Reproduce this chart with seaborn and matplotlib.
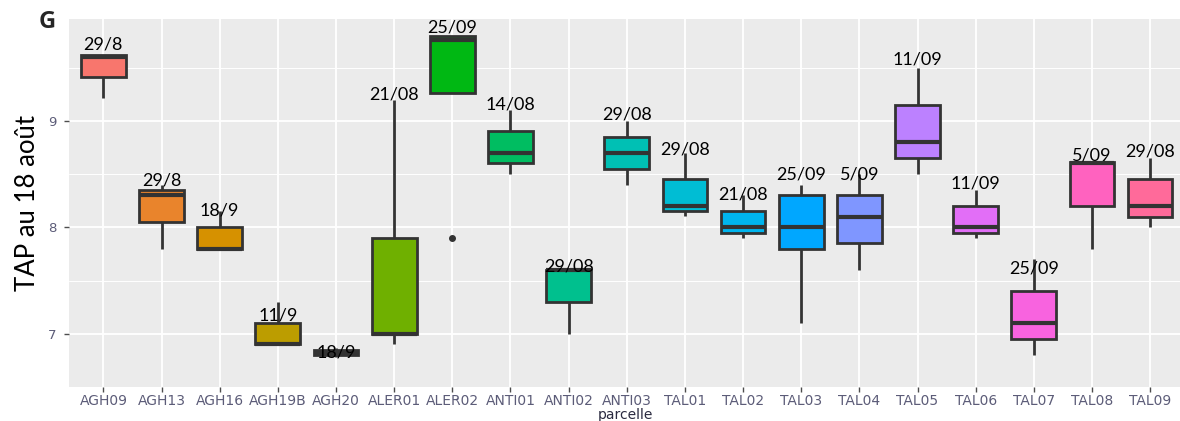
import numpy as np
import pandas as pd
import matplotlib
matplotlib.use("Agg")
import matplotlib.pyplot as plt
import seaborn as sns

parcelles = ["AGH09", "AGH13", "AGH16", "AGH19B", "AGH20", "ALER01", "ALER02",
             "ANTI01", "ANTI02", "ANTI03", "TAL01", "TAL02", "TAL03", "TAL04",
             "TAL05", "TAL06", "TAL07", "TAL08", "TAL09"]
# five values per parcel: lowest, lower hinge, median, upper hinge, highest
v_low  = [9.21, 7.80, 7.80, 6.90, 6.78, 6.90, 7.90, 8.50, 7.00, 8.40, 8.11, 7.90, 7.10, 7.60, 8.50, 7.90, 6.80, 7.80, 8.00]
v_q1   = [9.41, 8.05, 7.80, 6.90, 6.80, 7.00, 9.26, 8.60, 7.30, 8.55, 8.15, 7.95, 7.80, 7.85, 8.65, 7.95, 6.95, 8.20, 8.10]
v_med  = [9.60, 8.30, 7.80, 6.90, 6.82, 7.00, 9.76, 8.70, 7.60, 8.70, 8.20, 8.00, 8.00, 8.10, 8.80, 8.00, 7.10, 8.60, 8.20]
v_q3   = [9.62, 8.35, 8.00, 7.10, 6.85, 7.90, 9.80, 8.90, 7.60, 8.85, 8.45, 8.15, 8.30, 8.30, 9.15, 8.20, 7.40, 8.61, 8.45]
v_high = [9.62, 8.40, 8.15, 7.30, 6.87, 9.20, 9.80, 9.10, 7.60, 9.00, 8.70, 8.30, 8.40, 8.50, 9.50, 8.35, 7.70, 8.61, 8.65]
dates  = ["29/8", "29/8", "18/9", "11/9", "18/9", "21/08", "25/09", "14/08", "29/08", "29/08",
          "29/08", "21/08", "25/09", "5/09", "11/09", "11/09", "25/09", "5/09", "29/08"]
date_y = [9.72, 8.44, 8.16, 7.17, 6.82, 9.25, 9.88, 9.15, 7.63, 9.06,
          8.73, 8.31, 8.50, 8.50, 9.58, 8.41, 7.61, 8.67, 8.71]

rows = []
for i, p in enumerate(parcelles):
    for arr in (v_low, v_q1, v_med, v_q3, v_high):
        rows.append({"parcelle": p, "TAP": arr[i]})
df = pd.DataFrame(rows)

def hcl_to_hex(h, c=100.0, l=65.0):
    Xn, Yn, Zn = 95.047, 100.0, 108.883
    hr = np.deg2rad(h)
    u, v = c * np.cos(hr), c * np.sin(hr)
    Y = Yn * ((l + 16) / 116) ** 3
    den = Xn + 15 * Yn + 3 * Zn
    un, vn = 4 * Xn / den, 9 * Yn / den
    up = u / (13 * l) + un
    vp = v / (13 * l) + vn
    X = 9.0 * Y * up / (4 * vp)
    Z = -X / 3 - 5 * Y + 3 * Y / vp
    X, Y, Z = X / 100, Y / 100, Z / 100
    r = 3.240479 * X - 1.537150 * Y - 0.498535 * Z
    g = -0.969256 * X + 1.875992 * Y + 0.041556 * Z
    b = 0.055648 * X - 0.204043 * Y + 1.057311 * Z
    def gam(t):
        t = 12.92 * t if t <= 0.0031308 else 1.055 * t ** (1 / 2.4) - 0.055
        return min(max(t, 0), 1)
    return "#%02x%02x%02x" % tuple(int(round(255 * gam(t))) for t in (r, g, b))

n = len(parcelles)
colors = [hcl_to_hex(15 + i * 360.0 / n) for i in range(n)]

sns.set_theme(style="darkgrid")
plt.rcParams["font.family"] = ["DejaVu Sans"]

fig = plt.figure(figsize=(11.8, 4.21), dpi=100)
ax = fig.add_axes([68.5 / 1180, 1 - 387 / 421, (1185 - 68.5) / 1180, (387 - 19) / 421])
ax.set_facecolor("#EBEBEB")

sns.boxplot(data=df, x="parcelle", y="TAP", hue="parcelle", palette=colors,
            order=parcelles, hue_order=parcelles, width=0.77, linewidth=2.0,
            linecolor="#333333", saturation=1, whis=1.5, legend=False, ax=ax,
            showcaps=False,
            flierprops=dict(marker="o", markersize=4, markerfacecolor="#333333",
                            markeredgecolor="#333333"),
            medianprops=dict(linewidth=3.0, color="#333333"))

for i, (t, y) in enumerate(zip(dates, date_y)):
    ax.text(i, y, t, ha="center", va="center", fontsize=13, family="Lato", color="black")

ax.set_xlim(-0.6, n - 0.4)
ax.set_ylim(6.65, 9.956)
ax.set_yticks([7, 8, 9])
ax.set_yticklabels(["7", "8", "9"])
ax.set_yticks([6.5, 7.5, 8.5, 9.5], minor=True)
ax.grid(True, which="major", color="white", linewidth=1.3)
ax.grid(True, which="minor", axis="y", color="white", linewidth=0.7)
ax.set_axisbelow(True)
for s in ax.spines.values():
    s.set_visible(False)

tick_col = "#5c5c78"
ax.tick_params(axis="both", which="major", length=3.5, width=1, color="#4d4d4d",
               labelcolor=tick_col, labelsize=10, pad=1.5, bottom=True, left=True)
ax.tick_params(axis="y", which="major", labelsize=9.5, pad=5)
ax.tick_params(axis="y", which="minor", length=0, left=False)
ax.set_xlabel("parcelle", fontsize=10, color="#2a2a40")
ax.xaxis.set_label_coords((625 - 68.5) / (1185 - 68.5), -(414.5 - 387) / (387 - 19))
ax.xaxis.label.set_va("center")
ax.set_ylabel("TAP au 18 août", fontsize=18.5, family="Lato", color="black")
ax.yaxis.set_label_coords(-(68.5 - 28) / (1185 - 68.5), 0.5)
ax.yaxis.label.set_va("center")

fig.text(47 / 1180, 1 - 22 / 421, "G", fontsize=17, fontweight="bold", family="Open Sans",
         ha="center", va="center")

fig.savefig("out.png", dpi=100)
